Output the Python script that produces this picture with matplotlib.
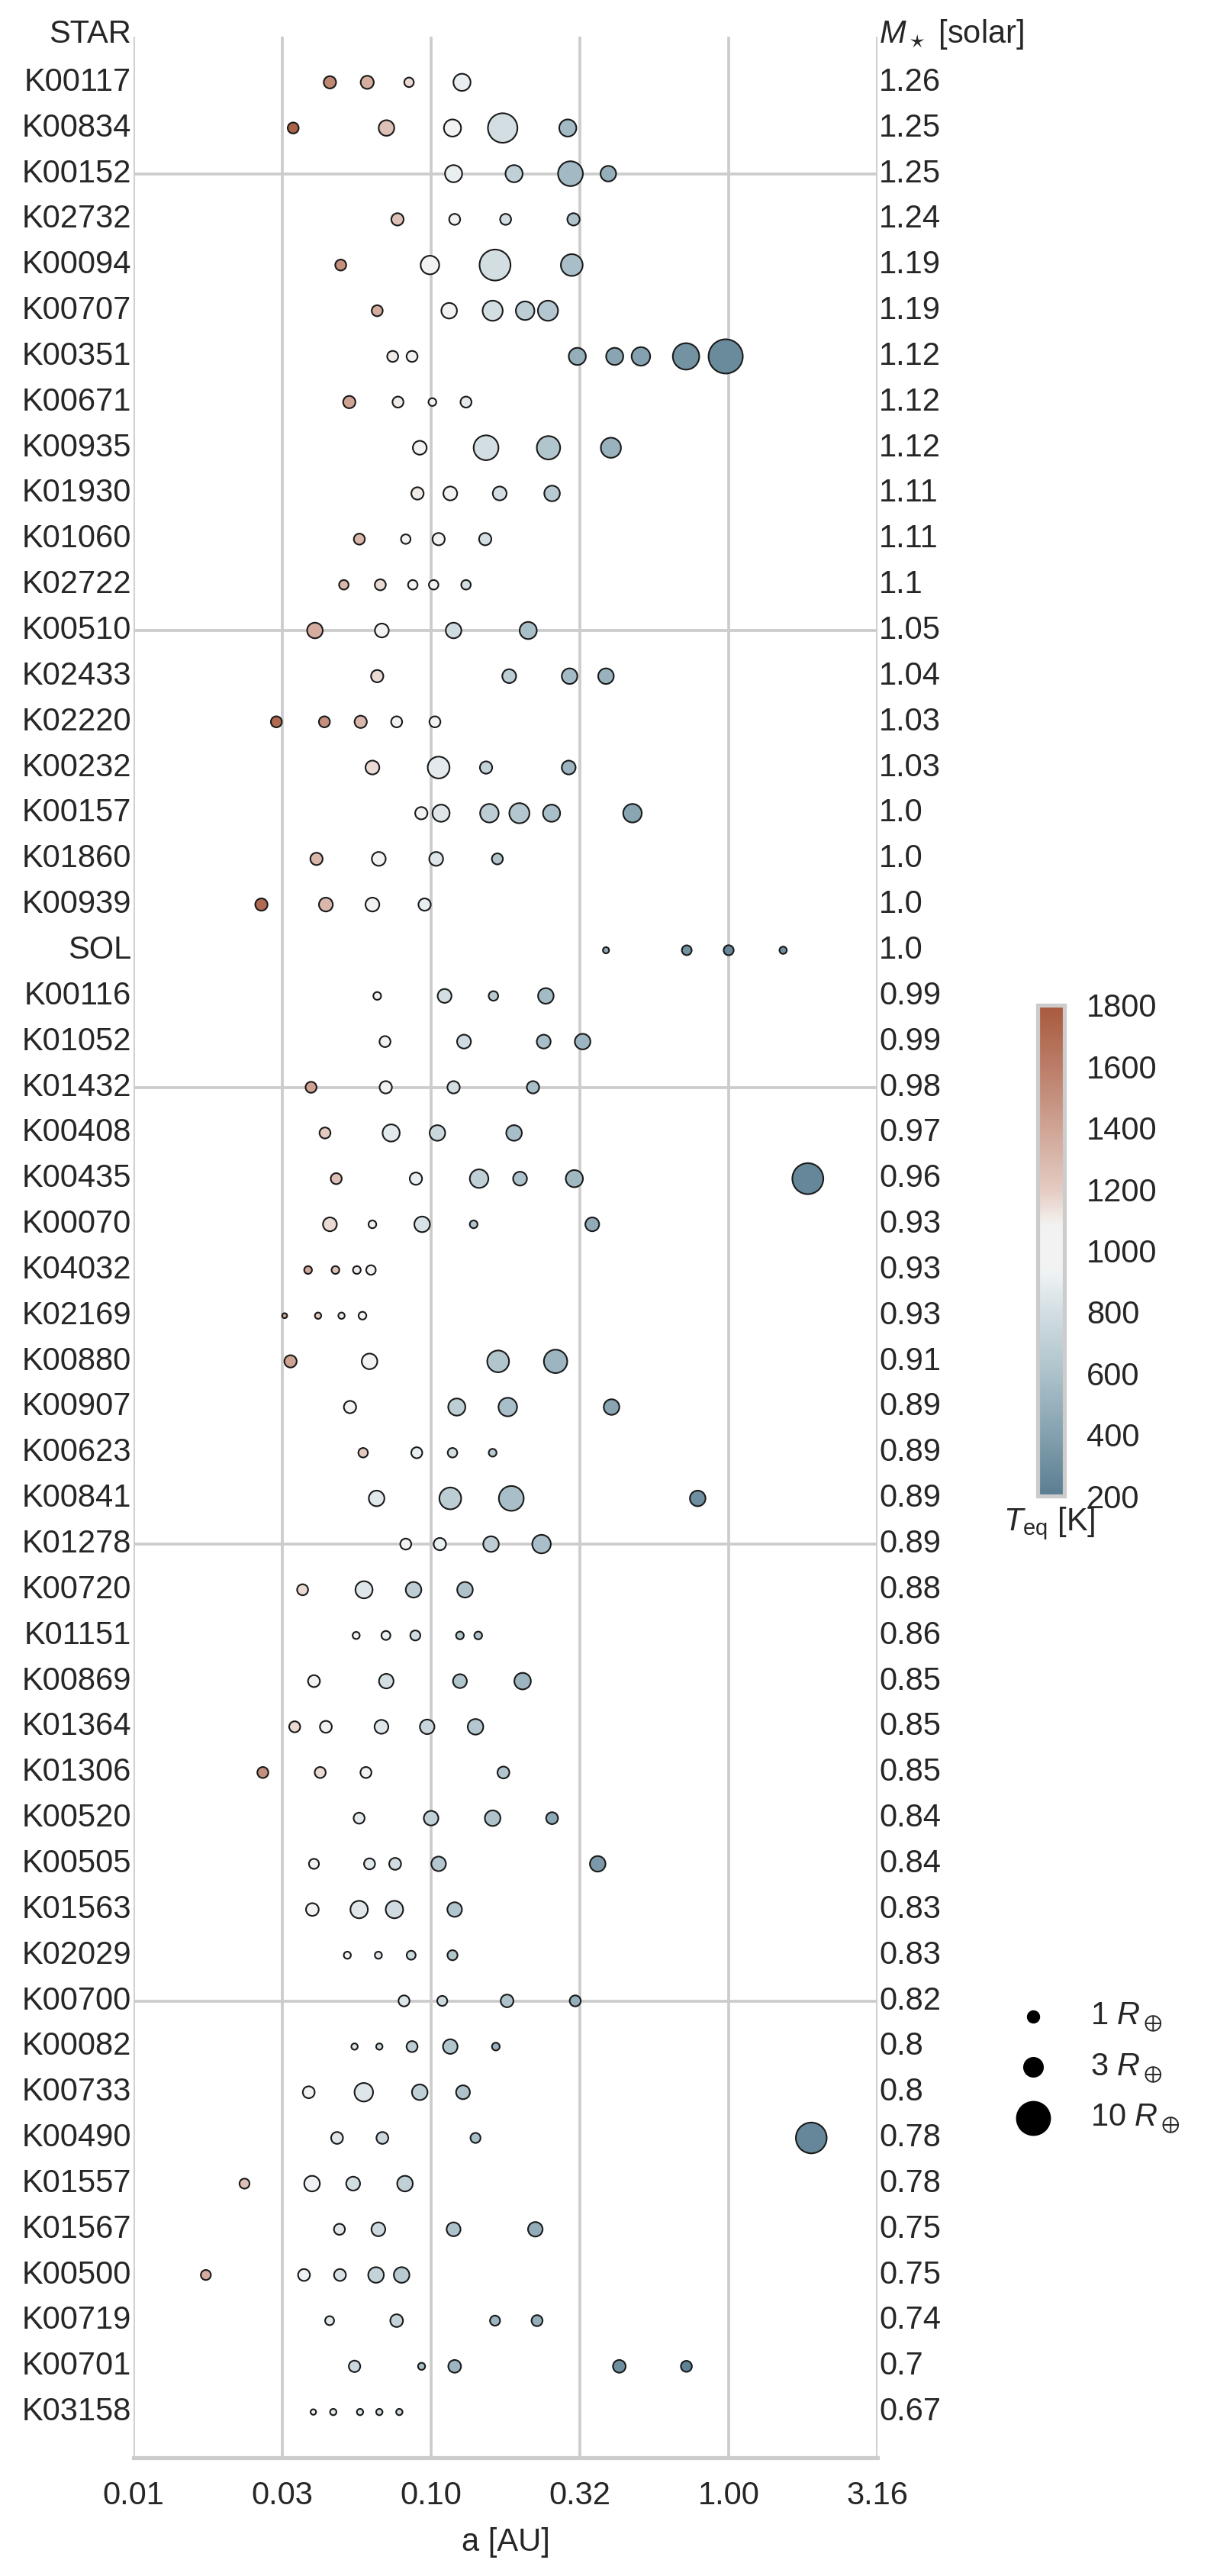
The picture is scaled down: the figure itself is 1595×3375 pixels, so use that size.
import numpy as np
import matplotlib
matplotlib.use('Agg')
import matplotlib.pyplot as plt
from matplotlib.colors import LinearSegmentedColormap

# star names (top to bottom) and stellar masses [solar]
stars = ['K00117', 'K00834', 'K00152', 'K02732', 'K00094', 'K00707', 'K00351',
         'K00671', 'K00935', 'K01930', 'K01060', 'K02722', 'K00510', 'K02433',
         'K02220', 'K00232', 'K00157', 'K01860', 'K00939', 'SOL', 'K00116',
         'K01052', 'K01432', 'K00408', 'K00435', 'K00070', 'K04032', 'K02169',
         'K00880', 'K00907', 'K00623', 'K00841', 'K01278', 'K00720', 'K01151',
         'K00869', 'K01364', 'K01306', 'K00520', 'K00505', 'K01563', 'K02029',
         'K00700', 'K00082', 'K00733', 'K00490', 'K01557', 'K01567', 'K00500',
         'K00719', 'K00701', 'K03158']
masses = [1.26, 1.25, 1.25, 1.24, 1.19, 1.19, 1.12, 1.12, 1.12, 1.11, 1.11, 1.1,
          1.05, 1.04, 1.03, 1.03, 1.0, 1.0, 1.0, 1.0, 0.99, 0.99, 0.98, 0.97,
          0.96, 0.93, 0.93, 0.93, 0.91, 0.89, 0.89, 0.89, 0.89, 0.88, 0.86,
          0.85, 0.85, 0.85, 0.84, 0.84, 0.83, 0.83, 0.82, 0.8, 0.8, 0.78, 0.78,
          0.75, 0.75, 0.74, 0.7, 0.67]

# planet semi-major axes [AU]
semi_major = [
    [0.0457, 0.0610, 0.0843, 0.127],
    [0.0344, 0.0708, 0.118, 0.174, 0.288],
    [0.119, 0.190, 0.294, 0.394],
    [0.0771, 0.120, 0.178, 0.301],
    [0.0497, 0.0991, 0.164, 0.297],
    [0.0659, 0.115, 0.161, 0.207, 0.247],
    [0.0743, 0.0863, 0.310, 0.414, 0.507, 0.719, 0.977],
    [0.0531, 0.0774, 0.101, 0.131],
    [0.0916, 0.153, 0.248, 0.402],
    [0.0900, 0.116, 0.170, 0.255],
    [0.0574, 0.0822, 0.106, 0.152],
    [0.0509, 0.0675, 0.0868, 0.102, 0.131],
    [0.0407, 0.0683, 0.119, 0.212],
    [0.0659, 0.183, 0.292, 0.387],
    [0.0302, 0.0438, 0.0580, 0.0766, 0.103],
    [0.0635, 0.106, 0.153, 0.290],
    [0.0927, 0.108, 0.157, 0.198, 0.254, 0.475],
    [0.0412, 0.0667, 0.104, 0.167],
    [0.0269, 0.0443, 0.0635, 0.0951],
    [0.387, 0.723, 1.0, 1.524],
    [0.0659, 0.111, 0.162, 0.243],
    [0.0700, 0.129, 0.239, 0.323],
    [0.0395, 0.0704, 0.119, 0.220],
    [0.0440, 0.0734, 0.105, 0.190],
    [0.0480, 0.0889, 0.145, 0.199, 0.303, 1.845],
    [0.0457, 0.0635, 0.0933, 0.139, 0.348],
    [0.0386, 0.0477, 0.0563, 0.0628],
    [0.0322, 0.0417, 0.0500, 0.0588],
    [0.0337, 0.0621, 0.168, 0.262],
    [0.0534, 0.122, 0.181, 0.404],
    [0.0591, 0.0895, 0.118, 0.161],
    [0.0656, 0.116, 0.186, 0.787],
    [0.0822, 0.107, 0.159, 0.235],
    [0.0370, 0.0595, 0.0873, 0.130],
    [0.0560, 0.0705, 0.0885, 0.125, 0.144],
    [0.0404, 0.0707, 0.125, 0.203],
    [0.0348, 0.0443, 0.0681, 0.0970, 0.141],
    [0.0272, 0.0424, 0.0604, 0.175],
    [0.0573, 0.100, 0.161, 0.255],
    [0.0404, 0.0621, 0.0757, 0.106, 0.363],
    [0.0399, 0.0573, 0.0753, 0.120],
    [0.0523, 0.0665, 0.0857, 0.118],
    [0.0811, 0.109, 0.180, 0.305],
    [0.0553, 0.0670, 0.0863, 0.116, 0.165],
    [0.0388, 0.0594, 0.0916, 0.128],
    [0.0483, 0.0686, 0.141, 1.895],
    [0.0236, 0.0398, 0.0547, 0.0817],
    [0.0492, 0.0665, 0.119, 0.224],
    [0.0175, 0.0374, 0.0494, 0.0653, 0.0796],
    [0.0456, 0.0766, 0.164, 0.227],
    [0.0553, 0.0929, 0.120, 0.429, 0.721],
    [0.0402, 0.0469, 0.0577, 0.0670, 0.0782],
]

# planet radii [earth radii]
radii = [
    [1.5, 1.7, 0.9, 2.9],
    [1.2, 2.4, 2.9, 8.6, 2.9],
    [2.9, 2.9, 6.1, 2.4],
    [1.5, 1.2, 1.2, 1.5],
    [1.2, 3.4, 9.5, 4.7],
    [1.2, 2.4, 4.0, 3.4, 4.0],
    [1.2, 1.2, 2.9, 2.9, 3.4, 6.9, 11.6],
    [1.5, 1.2, 0.6, 1.2],
    [1.9, 6.1, 5.4, 4.0],
    [1.5, 1.9, 1.9, 2.4],
    [1.2, 0.9, 1.5, 1.5],
    [0.9, 1.2, 0.9, 0.9, 0.9],
    [2.4, 1.9, 2.4, 2.9],
    [1.5, 1.9, 2.4, 2.4],
    [1.2, 1.2, 1.5, 1.2, 1.2],
    [1.9, 4.7, 1.5, 1.9],
    [1.5, 2.9, 3.4, 4.0, 2.9, 3.4],
    [1.5, 1.9, 1.9, 1.2],
    [1.5, 1.9, 1.9, 1.5],
    [0.38, 0.95, 1.0, 0.53],
    [0.6, 1.9, 0.9, 2.4],
    [1.2, 1.9, 1.9, 2.4],
    [1.2, 1.5, 1.5, 1.5],
    [1.2, 2.9, 2.4, 2.4],
    [1.2, 1.5, 3.4, 1.9, 2.9, 9.5],
    [1.9, 0.6, 2.4, 0.6, 1.9],
    [0.6, 0.6, 0.6, 0.9],
    [0.25, 0.4, 0.4, 0.6],
    [1.5, 2.4, 4.7, 5.4],
    [1.5, 2.9, 3.4, 2.4],
    [0.9, 1.2, 0.9, 0.6],
    [2.4, 4.7, 6.1, 2.4],
    [1.2, 1.5, 2.4, 3.4],
    [1.2, 2.9, 2.4, 2.4],
    [0.5, 0.8, 1.0, 0.6, 0.6],
    [1.4, 2.1, 1.9, 2.7],
    [1.2, 1.4, 1.9, 2.1, 2.4],
    [1.2, 1.2, 1.2, 1.4],
    [1.2, 2.1, 2.4, 1.4],
    [1.0, 1.2, 1.4, 2.1, 2.4],
    [1.6, 3.0, 3.0, 2.1],
    [0.5, 0.5, 0.8, 1.0],
    [1.2, 1.0, 1.6, 1.2],
    [0.4, 0.4, 1.2, 2.1, 0.6],
    [1.4, 3.4, 2.4, 1.9],
    [1.4, 1.4, 1.0, 9.4],
    [1.0, 2.4, 1.9, 2.4],
    [1.2, 1.9, 1.9, 2.1],
    [1.0, 1.4, 1.4, 2.4, 2.4],
    [0.8, 1.6, 1.0, 1.2],
    [1.3, 0.5, 1.6, 1.6, 1.2],
    [0.3, 0.4, 0.4, 0.4, 0.4],
]

# equilibrium temperatures [K]
teq = [
    [1550, 1350, 1150, 900],
    [1750, 1250, 1000, 800, 550],
    [900, 700, 550, 480],
    [1250, 950, 800, 600],
    [1500, 1000, 800, 580],
    [1350, 1000, 800, 680, 640],
    [1100, 1000, 480, 430, 400, 320, 280],
    [1400, 1100, 1000, 880],
    [1000, 800, 620, 500],
    [1100, 1000, 800, 650],
    [1300, 1000, 950, 800],
    [1300, 1150, 1000, 980, 800],
    [1350, 1000, 780, 580],
    [1150, 680, 560, 500],
    [1700, 1500, 1300, 1020, 950],
    [1150, 880, 720, 520],
    [950, 850, 680, 640, 580, 430],
    [1300, 1000, 850, 620],
    [1700, 1300, 1020, 900],
    [450, 320, 260, 300],
    [1050, 800, 650, 560],
    [1000, 780, 580, 520],
    [1400, 1000, 800, 580],
    [1200, 880, 750, 580],
    [1250, 900, 700, 600, 540, 260],
    [1150, 1000, 820, 620, 460],
    [1380, 1250, 1100, 1050],
    [1400, 1200, 1100, 1050],
    [1400, 1000, 620, 520],
    [1000, 680, 580, 430],
    [1200, 900, 800, 650],
    [870, 680, 580, 300],
    [1000, 900, 680, 580],
    [1150, 850, 680, 600],
    [1000, 900, 780, 620, 600],
    [1000, 800, 620, 520],
    [1150, 1000, 850, 740, 640],
    [1500, 1150, 1000, 620],
    [880, 700, 600, 450],
    [1000, 860, 790, 640, 360],
    [1000, 860, 780, 620],
    [950, 860, 760, 620],
    [850, 760, 600, 480],
    [850, 780, 680, 620, 500],
    [1000, 850, 700, 600],
    [850, 750, 580, 260],
    [1250, 920, 800, 700],
    [860, 760, 600, 470],
    [1350, 920, 820, 720, 660],
    [860, 720, 520, 480],
    [760, 580, 520, 300, 230],
    [950, 870, 830, 780, 750],
]

legend_radii = [1, 3, 10]
cbar_ticks = [200, 400, 600, 800, 1000, 1200, 1400, 1600, 1800]
xticks = [-2.0, -1.5, -1.0, -0.5, 0.0, 0.5]

plt.rcParams['font.family'] = ['Liberation Sans', 'DejaVu Sans']
plt.rcParams['font.size'] = 10
plt.rcParams['text.color'] = '#262626'
plt.rcParams['xtick.color'] = '#262626'
plt.rcParams['ytick.color'] = '#262626'
plt.rcParams['axes.labelcolor'] = '#262626'
plt.rcParams['mathtext.fontset'] = 'custom'
plt.rcParams['mathtext.rm'] = 'Liberation Sans'
plt.rcParams['mathtext.it'] = 'Liberation Sans:italic'
plt.rcParams['mathtext.fallback'] = 'stixsans'

cmap = LinearSegmentedColormap.from_list('teq', [
    (0.0, '#5a7d90'), (0.125, '#84a1af'), (0.25, '#adc2cb'),
    (0.375, '#d3dee3'), (0.455, '#eef2f4'), (0.47, '#f2f2f2'),
    (0.55, '#f2f2f2'), (0.57, '#f1e8e5'), (0.625, '#e4cbc2'),
    (0.75, '#cfa495'), (0.875, '#bb7d68'), (1.0, '#a85a3e')])

W, H = 1595, 3375
fig = plt.figure(figsize=(W / 300, H / 300), dpi=300)
ax = fig.add_axes([175 / W, 1 - 3220 / H, 975 / W, (3220 - 48) / H])

nrow = len(stars)
for i in range(nrow):
    y = nrow - i
    la = np.log10(semi_major[i])
    sc = ax.scatter(la, np.full(len(la), y), s=10 * np.array(radii[i]),
                    c=teq[i], cmap=cmap, vmin=200, vmax=1800,
                    edgecolors='#1a1a1a', linewidths=0.5, zorder=3)
    ax.text(-2.008, y, stars[i], ha='right', va='center')
    ax.text(0.505, y, str(masses[i]), ha='left', va='center')

ax.text(-2.008, nrow + 1.05, 'STAR', ha='right', va='center', clip_on=False)
ax.text(0.505, nrow + 1.05, r'$M_\star$ [solar]', ha='left', va='center', clip_on=False)

ax.set_xlim(-2, 0.5)
ax.set_ylim(0, nrow + 1)
ax.set_xticks(xticks)
ax.set_xticklabels(['%.2f' % 10 ** t for t in xticks])
ax.set_yticks([10, 20, 30, 40, 50])
ax.set_yticklabels([])
ax.tick_params(length=0)
ax.tick_params(axis='x', pad=7.2)
ax.set_xlabel('a [AU]', labelpad=5)
ax.grid(True, color='#cccccc', linewidth=0.9)
ax.set_axisbelow(True)
for side in ['top', 'left', 'right']:
    ax.spines[side].set_visible(False)
ax.spines['bottom'].set_color('#cccccc')
ax.spines['bottom'].set_linewidth(1.25)

# colorbar
cax = fig.add_axes([1360 / W, 1 - 1960 / H, 35 / W, 643 / H])
cb = fig.colorbar(sc, cax=cax, ticks=cbar_ticks)
cb.outline.set_edgecolor('#cccccc')
cb.outline.set_linewidth(1.25)
cax.tick_params(length=0, pad=7)
fig.text(1375 / W, 1 - 1996 / H, r'$T_{\mathrm{eq}}$ [K]', ha='center', va='center')

# size legend
handles = [ax.scatter([], [], s=10 * r, c='k') for r in legend_radii]
labels = [r'%d $R_\oplus$' % r for r in legend_radii]
fig.legend(handles, labels, loc='center left', bbox_to_anchor=(1312 / W, 1 - 2710 / H),
           frameon=False, scatterpoints=1, borderpad=0, borderaxespad=0,
           handletextpad=0.8, labelspacing=0.55)

fig.savefig('out.png', dpi=300)
